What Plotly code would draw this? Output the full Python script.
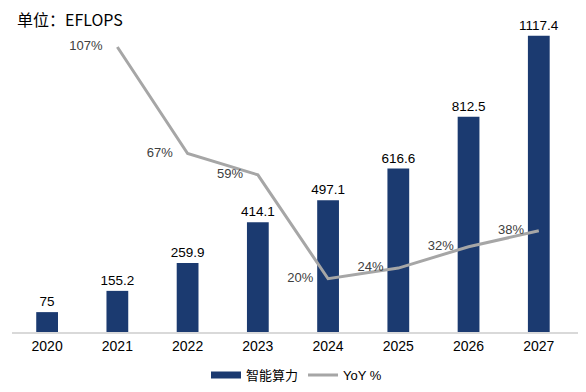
import plotly.graph_objects as go

years = ["2020", "2021", "2022", "2023", "2024", "2025", "2026", "2027"]
compute = [75, 155.2, 259.9, 414.1, 497.1, 616.6, 812.5, 1117.4]
compute_labels = ["75", "155.2", "259.9", "414.1", "497.1", "616.6", "812.5", "1117.4"]
yoy_years = ["2021", "2022", "2023", "2024", "2025", "2026", "2027"]
yoy = [107, 67, 59, 20, 24, 32, 38]
yoy_labels = ["107%", "67%", "59%", "20%", "24%", "32%", "38%"]

font_fam = "Liberation Sans, Arial, Noto Sans CJK SC, sans-serif"
bar_color = "#1B3A70"
line_color = "#A6A6A6"

fig = go.Figure()
fig.add_trace(go.Bar(
    x=years, y=compute, name="智能算力", showlegend=False,
    marker=dict(color=bar_color, line=dict(width=0)),
    width=0.31,
    text=compute_labels, textposition="outside", constraintext="none",
    textfont=dict(size=13.5, color="#000000", family=font_fam),
    cliponaxis=False,
))
# legend stand-in for the bar series (wide rectangle swatch)
fig.add_trace(go.Scatter(
    x=[None], y=[None], name="智能算力", mode="lines",
    line=dict(color=bar_color, width=7), showlegend=True,
))
fig.add_trace(go.Scatter(
    x=yoy_years, y=yoy, name="YoY %", yaxis="y2",
    mode="lines+markers+text",
    line=dict(color=line_color, width=3),
    marker=dict(size=22, color="rgba(0,0,0,0)"),
    text=yoy_labels, textposition="middle left",
    textfont=dict(size=13, color="#404040", family=font_fam),
    cliponaxis=False,
))

fig.update_layout(
    width=578, height=384,
    margin=dict(l=4, r=5, t=2, b=60, autoexpand=False),
    paper_bgcolor="white", plot_bgcolor="white",
    font=dict(family=font_fam, size=13, color="#000000"),
    showlegend=True,
    legend=dict(orientation="h", x=0.5, xanchor="center", y=-0.134, yanchor="middle",
                font=dict(size=13, color="#000000", family=font_fam),
                itemwidth=30, traceorder="normal"),
    xaxis=dict(showgrid=False, showline=True, linecolor="#D9D9D9", linewidth=1.5,
               ticks="", tickfont=dict(size=14, color="#000000"), automargin=False),
    yaxis=dict(range=[0, 1215], visible=False, showgrid=False, zeroline=False,
               automargin=False),
    yaxis2=dict(range=[0, 120.9], overlaying="y", side="right", visible=False,
                showgrid=False, zeroline=False, automargin=False),
    annotations=[dict(text="单位：EFLOPS", xref="paper", yref="paper",
                      x=0.005, y=0.972, xanchor="left", yanchor="middle",
                      showarrow=False,
                      font=dict(size=16, color="#000000",
                                family="Noto Sans CJK SC, Liberation Sans, sans-serif"))],
)

fig.write_html("out.html")
